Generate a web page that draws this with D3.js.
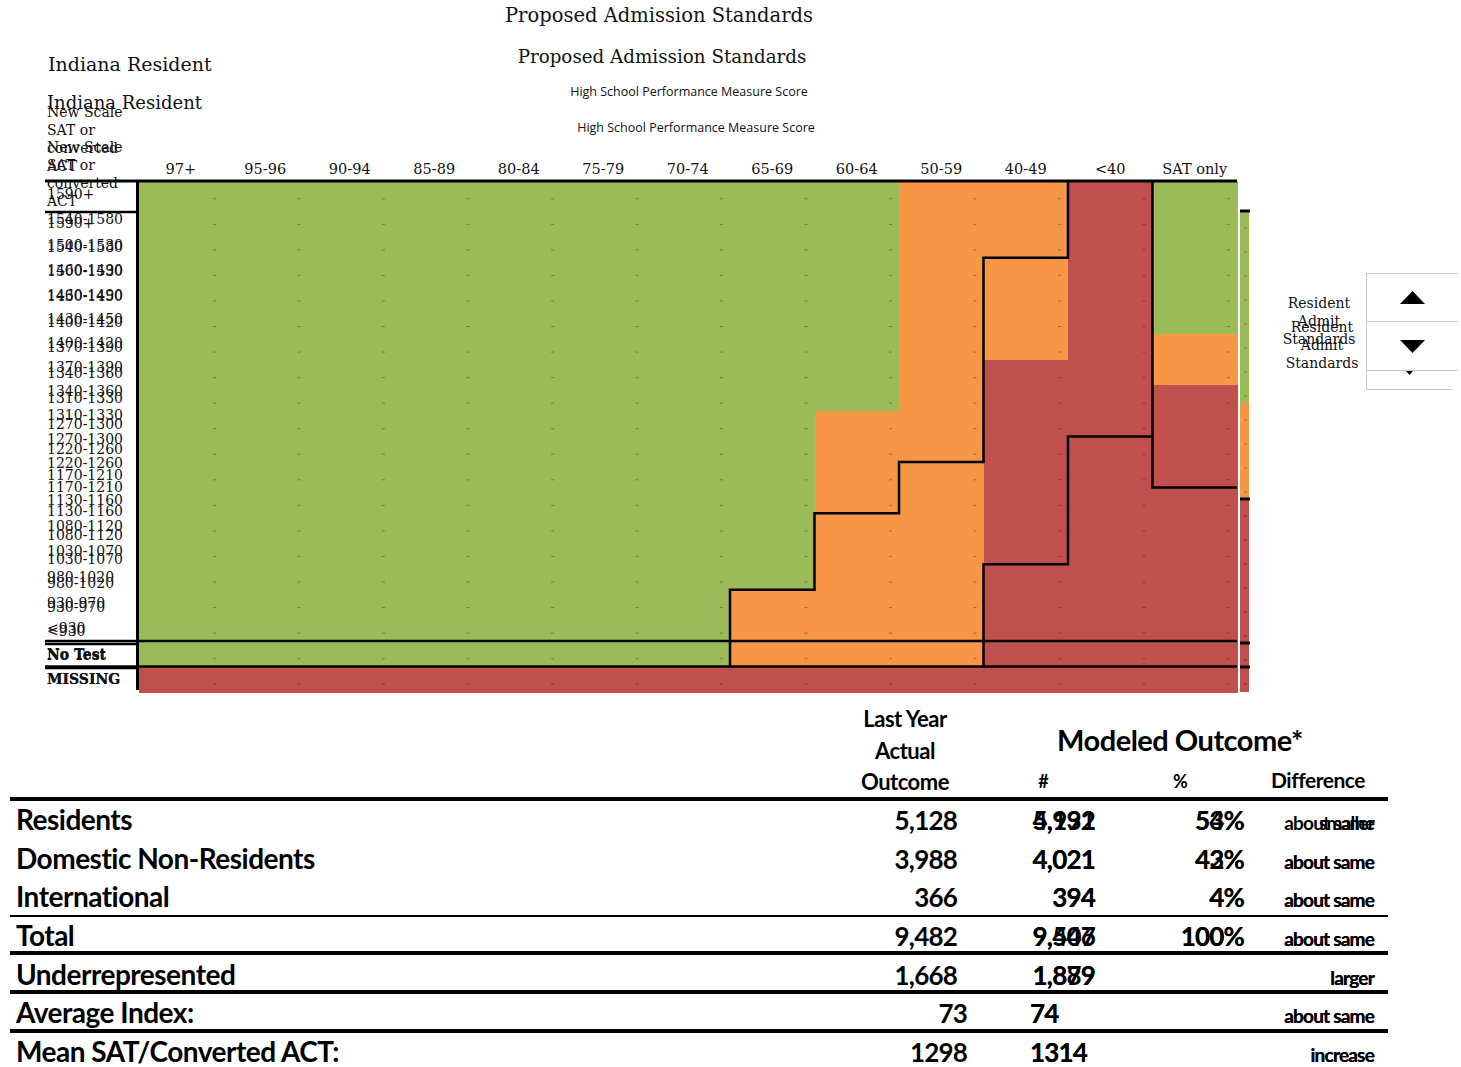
<!DOCTYPE html>
<html>
<head>
<meta charset="utf-8">
<script src="https://cdnjs.cloudflare.com/ajax/libs/d3/7.8.5/d3.min.js"></script>
<style>
    body { margin: 0; background: #fff; }
    .serif { font-family: "DejaVu Serif", serif; fill: #111; }
    .sans { font-family: "Open Sans", "Noto Sans", sans-serif; fill: #111; }
    .tbl { font-family: Lato, "Open Sans", sans-serif; font-weight: 700; fill: #000; letter-spacing: -0.8px; }
    .tbl.big { letter-spacing: -0.5px; }
</style>
</head>
<body>
<div id="chart"></div>
<script>
// High School Performance Measure Score columns
var hsCols = ["97+", "95-96", "90-94", "85-89", "80-84", "75-79", "70-74", "65-69", "60-64", "50-59", "40-49", "<40", "SAT only"];

// New scale SAT or converted ACT rows
var satRows = ["1590+", "1540-1580", "1500-1530", "1460-1490", "1430-1450", "1400-1420", "1370-1390",
    "1340-1360", "1310-1330", "1270-1300", "1220-1260", "1170-1210", "1130-1160", "1080-1120",
    "1030-1070", "980-1020", "930-970", "<930", "No Test", "MISSING"];

// score rows that are admit (green) / review (orange) per column, from the top; rest is deny (red)
var greenRows  = [18, 18, 18, 18, 18, 18, 18, 16, 9, 0, 0, 0, 6];
var orangeRows = [0, 0, 0, 0, 0, 0, 0, 2, 9, 18, 7, 0, 2];
// outcome of the "No Test" row per column (MISSING is always deny)
var noTestOutcome = ["admit", "admit", "admit", "admit", "admit", "admit", "admit",
    "review", "review", "review", "deny", "deny", "deny"];

// proposed resident admit standard outlines (column, first row under the line)
var admitStep = [{col: "65-69", row: 16}, {col: "60-64", row: 13}, {col: "50-59", row: 11},
    {col: "40-49", row: 3}, {col: "<40", row: 0}];
var denyStep = [{col: "40-49", row: 15}, {col: "<40", row: 10}, {col: "SAT only", row: 0}];
var satOnlyStep = {col: "SAT only", row: 12};

// second (shifted) copy of the SAT only column peeking out on the right
var stripGreenRows = 8, stripOrangeRows = 4;

// outcome table
var tableRows = ["Residents", "Domestic Non-Residents", "International", "Total",
    "Underrepresented", "Average Index:", "Mean SAT/Converted ACT:"];
var lastYear = [5128, 3988, 366, 9482, 1668, 73, 1298];
var modeledNew = [4992, 4021, 394, 9407, 1879, 74, 1314];
var modeledOld = [5131, 4021, 394, 9546, 1889, 74, 1314];
var pctNew = [53, 43, 4, 100, null, null, null];
var pctOld = [54, 42, 4, 100, null, null, null];
var diffNew = ["smaller", "about same", "about same", "about same", "larger", "about same", "increase"];
var diffOld = ["about same", "about same", "about same", "about same", "larger", "about same", "increase"];

var colors = { admit: "#9BBB59", review: "#F79646", deny: "#C0504D" };

var svg = d3.select("#chart")
    .append("svg")
    .attr("width", 1461)
    .attr("height", 1067);

// Scales
var x = d3.scaleBand().domain(hsCols).range([138.5, 1237]);
var y = d3.scaleBand().domain(satRows).range([181, 692]);
var yShift = d3.scaleBand().domain(satRows).range([211, 691]);

function outcome(ci, ri) {
    if (ri == 19) return "deny";
    if (ri == 18) return noTestOutcome[ci];
    if (ri < greenRows[ci]) return "admit";
    if (ri < greenRows[ci] + orangeRows[ci]) return "review";
    return "deny";
}

var cells = [];
hsCols.forEach(function(c, ci){
    satRows.forEach(function(r, ri){
        cells.push({ col: c, row: r, status: outcome(ci, ri) });
    });
});

// Shifted copy strip (drawn first, mostly hidden)
var strip = svg.append("g");
strip.selectAll("rect")
    .data(satRows)
    .enter().append("rect")
    .attr("x", 1240)
    .attr("y", function(r){ return yShift(r); })
    .attr("width", 9)
    .attr("height", yShift.bandwidth() + 0.5)
    .attr("shape-rendering", "crispEdges")
    .attr("fill", function(r, i){
        if (i < stripGreenRows) return colors.admit;
        if (i < stripGreenRows + stripOrangeRows) return colors.review;
        return colors.deny;
    });
strip.selectAll("line.dash")
    .data(satRows)
    .enter().append("line")
    .attr("class", "dash")
    .attr("x1", 1244).attr("x2", 1247)
    .attr("y1", function(r){ return yShift(r) + yShift.bandwidth() / 2 + 5; })
    .attr("y2", function(r){ return yShift(r) + yShift.bandwidth() / 2 + 5; })
    .attr("stroke", "rgba(0,0,0,0.35)");
[satRows[0], satRows[stripGreenRows + stripOrangeRows], "No Test", "MISSING"].forEach(function(r){
    strip.append("line")
        .attr("x1", 1240).attr("x2", 1250)
        .attr("y1", yShift(r)).attr("y2", yShift(r))
        .attr("stroke", "#000").attr("stroke-width", 3);
});
// label area rules of the shifted copy
[satRows[0], "No Test", "MISSING"].forEach(function(r){
    svg.append("line")
        .attr("x1", 45).attr("x2", 137)
        .attr("y1", yShift(r) + 1).attr("y2", yShift(r) + 1)
        .attr("stroke", "#000").attr("stroke-width", 2.5);
});

// Grid cells
var grid = svg.append("g");
grid.selectAll("rect")
    .data(cells)
    .enter().append("rect")
    .attr("x", function(d){ return x(d.col); })
    .attr("y", function(d){ return y(d.row); })
    .attr("width", x.bandwidth() + 0.5)
    .attr("height", y.bandwidth() + 0.5)
    .attr("shape-rendering", "crispEdges")
    .attr("fill", function(d){ return colors[d.status]; });

// tiny "-" marks left in each cell
grid.selectAll("line.dash")
    .data(cells)
    .enter().append("line")
    .attr("class", "dash")
    .attr("x1", function(d){ return x(d.col) + x.bandwidth() - 10; })
    .attr("x2", function(d){ return x(d.col) + x.bandwidth() - 7; })
    .attr("y1", function(d){ return y(d.row) + y.bandwidth() / 2 + 5; })
    .attr("y2", function(d){ return y(d.row) + y.bandwidth() / 2 + 5; })
    .attr("stroke", "rgba(0,0,0,0.3)");

// Rules
svg.append("line")
    .attr("x1", 45).attr("x2", 1237)
    .attr("y1", y(satRows[0])).attr("y2", y(satRows[0]))
    .attr("stroke", "#000").attr("stroke-width", 3);
["No Test", "MISSING"].forEach(function(r){
    svg.append("line")
        .attr("x1", 45).attr("x2", 1237)
        .attr("y1", y(r)).attr("y2", y(r))
        .attr("stroke", "#000").attr("stroke-width", 2.5);
});
svg.append("line")
    .attr("x1", 137.5).attr("x2", 137.5)
    .attr("y1", 181).attr("y2", 690)
    .attr("stroke", "#000").attr("stroke-width", 3);

// Standard outlines
function stepPath(steps, bottom){
    var pts = [[x(steps[0].col), bottom]];
    steps.forEach(function(s, i){
        pts.push([x(s.col), y(satRows[s.row])]);
        if (i + 1 < steps.length) pts.push([x(steps[i + 1].col), y(satRows[s.row])]);
    });
    return d3.line()(pts);
}
svg.append("path")
    .attr("d", stepPath(admitStep, y("MISSING")))
    .attr("fill", "none").attr("stroke", "#000").attr("stroke-width", 2.5);
svg.append("path")
    .attr("d", stepPath(denyStep, y("MISSING")))
    .attr("fill", "none").attr("stroke", "#000").attr("stroke-width", 2.5);
svg.append("path")
    .attr("d", d3.line()([
        [x(satOnlyStep.col), y(satRows[denyStep[1].row])],
        [x(satOnlyStep.col), y(satRows[satOnlyStep.row])],
        [x(satOnlyStep.col) + x.bandwidth(), y(satRows[satOnlyStep.row])]
    ]))
    .attr("fill", "none").attr("stroke", "#000").attr("stroke-width", 2.5);

// Column headers
svg.selectAll("text.colhead")
    .data(hsCols)
    .enter().append("text")
    .attr("class", "colhead serif")
    .attr("x", function(d){ return x(d) + x.bandwidth() / 2; })
    .attr("y", 174)
    .attr("text-anchor", "middle")
    .attr("font-size", "14.5px")
    .text(function(d){ return d; });

// Row labels, twice (aligned copy and shifted copy)
function rowWeight(d){ return (d == "No Test" || d == "MISSING") ? 700 : 400; }
svg.selectAll("text.rowA")
    .data(satRows)
    .enter().append("text")
    .attr("class", "rowA serif")
    .attr("x", 47)
    .attr("y", function(d){ return y(d) + y.bandwidth() / 2 + 5; })
    .attr("font-size", "14px")
    .attr("font-weight", rowWeight)
    .text(function(d){ return d; });
svg.selectAll("text.rowB")
    .data(satRows)
    .enter().append("text")
    .attr("class", "rowB serif")
    .attr("x", 47)
    .attr("y", function(d){ return yShift(d) + yShift.bandwidth() / 2 + 5; })
    .attr("font-size", "14px")
    .attr("font-weight", rowWeight)
    .text(function(d){ return d; });

// Row header ("New Scale SAT or converted ACT"), twice
var rowHead = ["New Scale", "SAT or", "converted", "ACT"];
[117, 152].forEach(function(top){
    svg.selectAll(null)
        .data(rowHead)
        .enter().append("text")
        .attr("class", "serif")
        .attr("x", 47)
        .attr("y", function(d, i){ return top + i * 18; })
        .attr("font-size", "14px")
        .text(function(d){ return d; });
});

// Titles, twice
svg.append("text").attr("class", "serif")
    .attr("x", 659).attr("y", 22).attr("text-anchor", "middle")
    .attr("font-size", "19.5px").text("Proposed Admission Standards");
svg.append("text").attr("class", "serif")
    .attr("x", 662).attr("y", 63).attr("text-anchor", "middle")
    .attr("font-size", "18.3px").text("Proposed Admission Standards");
svg.append("text").attr("class", "serif")
    .attr("x", 48).attr("y", 71)
    .attr("font-size", "19px").text("Indiana Resident");
svg.append("text").attr("class", "serif")
    .attr("x", 47).attr("y", 109)
    .attr("font-size", "18px").text("Indiana Resident");
svg.append("text").attr("class", "sans")
    .attr("x", 689).attr("y", 96).attr("text-anchor", "middle")
    .attr("font-size", "12.5px").text("High School Performance Measure Score");
svg.append("text").attr("class", "sans")
    .attr("x", 696).attr("y", 132).attr("text-anchor", "middle")
    .attr("font-size", "12.5px").text("High School Performance Measure Score");

// Legend / parameter control
var legendLines = ["Resident", "Admit", "Standards"];
[{cx: 1319, top: 308}, {cx: 1322, top: 332}].forEach(function(p){
    svg.selectAll(null)
        .data(legendLines)
        .enter().append("text")
        .attr("class", "serif")
        .attr("x", p.cx)
        .attr("y", function(d, i){ return p.top + i * 18; })
        .attr("text-anchor", "middle")
        .attr("font-size", "14px")
        .text(function(d){ return d; });
});
var ctrl = svg.append("g").attr("stroke", "#c8c8c8").attr("stroke-width", 1);
ctrl.append("line").attr("x1", 1366.5).attr("x2", 1366.5).attr("y1", 273).attr("y2", 390);
ctrl.append("line").attr("x1", 1366).attr("x2", 1458).attr("y1", 273.5).attr("y2", 273.5);
ctrl.append("line").attr("x1", 1366).attr("x2", 1458).attr("y1", 321.5).attr("y2", 321.5);
ctrl.append("line").attr("x1", 1366).attr("x2", 1458).attr("y1", 370.5).attr("y2", 370.5);
ctrl.append("line").attr("x1", 1366).attr("x2", 1452).attr("y1", 389.5).attr("y2", 389.5);
svg.append("path").attr("d", "M1400,304L1412.5,291L1425,304Z").attr("fill", "#000");
svg.append("path").attr("d", "M1400,340L1412.5,353L1425,340Z").attr("fill", "#000");
svg.append("path").attr("d", "M1406,371L1409.5,375L1413,371Z").attr("fill", "#000");

// Outcome table
var tbl = svg.append("g");
var rowY = d3.scaleLinear().domain([0, 6]).range([830, 1062]);
var fmt = d3.format(",");
function num(v, i){ return i < 5 ? fmt(v) : String(v); }

tbl.append("text").attr("class", "tbl big").attr("x", 905).attr("y", 727)
    .attr("text-anchor", "middle").attr("font-size", "22px").text("Last Year");
tbl.append("text").attr("class", "tbl big").attr("x", 905).attr("y", 759)
    .attr("text-anchor", "middle").attr("font-size", "22px").text("Actual");
tbl.append("text").attr("class", "tbl big").attr("x", 905).attr("y", 790)
    .attr("text-anchor", "middle").attr("font-size", "22px").text("Outcome");
tbl.append("text").attr("class", "tbl big").attr("x", 1180).attr("y", 751)
    .attr("text-anchor", "middle").attr("font-size", "29px").text("Modeled Outcome*");
tbl.append("text").attr("class", "tbl").attr("x", 1043).attr("y", 788)
    .attr("text-anchor", "middle").attr("font-size", "18px").text("#");
tbl.append("text").attr("class", "tbl").attr("x", 1180).attr("y", 788)
    .attr("text-anchor", "middle").attr("font-size", "18px").text("%");
tbl.append("text").attr("class", "tbl big").attr("x", 1318).attr("y", 788)
    .attr("text-anchor", "middle").attr("font-size", "21px").text("Difference");

// table rules
[{y: 799, w: 4}, {y: 916, w: 2}, {y: 953, w: 4}, {y: 992, w: 4}, {y: 1031, w: 4}].forEach(function(r){
    tbl.append("line")
        .attr("x1", 10).attr("x2", 1388)
        .attr("y1", r.y).attr("y2", r.y)
        .attr("stroke", "#000").attr("stroke-width", r.w);
});

tbl.selectAll("text.label")
    .data(tableRows)
    .enter().append("text")
    .attr("class", "tbl big label")
    .attr("x", 16)
    .attr("y", function(d, i){ return rowY(i); })
    .attr("font-size", "28px")
    .text(function(d){ return d; });

tbl.selectAll("text.last")
    .data(lastYear)
    .enter().append("text")
    .attr("class", "tbl last")
    .attr("x", function(d, i){ return i < 5 ? 957 : 967; })
    .attr("y", function(d, i){ return rowY(i); })
    .attr("text-anchor", "end")
    .attr("font-size", "26px")
    .text(num);

// both model runs are printed on top of each other
[modeledOld, modeledNew].forEach(function(arr, k){
    tbl.selectAll(null)
        .data(arr)
        .enter().append("text")
        .attr("class", "tbl")
        .attr("x", function(d, i){ return i < 5 ? 1095 : 1030; })
        .attr("y", function(d, i){ return rowY(i); })
        .attr("text-anchor", function(d, i){ return i < 5 ? "end" : "start"; })
        .attr("font-size", "26px")
        .attr("font-weight", function(d, i){ return i == 6 ? 400 : 700; })
        .text(num);
});
[pctOld, pctNew].forEach(function(arr){
    tbl.selectAll(null)
        .data(arr)
        .enter().append("text")
        .attr("class", "tbl")
        .attr("x", 1244)
        .attr("y", function(d, i){ return rowY(i); })
        .attr("text-anchor", "end")
        .attr("font-size", "26px")
        .text(function(d){ return d == null ? "" : d + "%"; });
});
[diffOld, diffNew].forEach(function(arr, k){
    tbl.selectAll(null)
        .data(arr)
        .enter().append("text")
        .attr("class", "tbl")
        .attr("x", 1374)
        .attr("y", function(d, i){ return rowY(i); })
        .attr("text-anchor", "end")
        .attr("font-size", "19px")
        .attr("font-weight", function(d, i){ return i == 0 && k == 0 ? 400 : 700; })
        .text(function(d){ return d; });
});
</script>
</body>
</html>
